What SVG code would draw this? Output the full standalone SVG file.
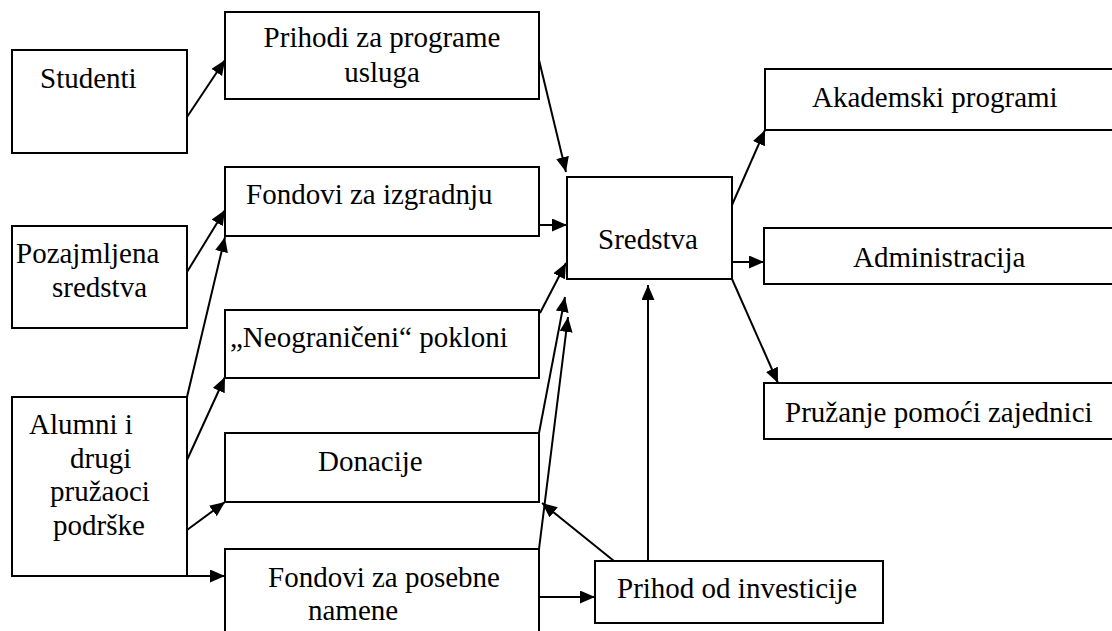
<svg xmlns="http://www.w3.org/2000/svg" width="1112" height="631" viewBox="0 0 1112 631">
<style>
.box{fill:#fff;stroke:#000;stroke-width:2}
.t{font-family:"Liberation Serif","Times New Roman",serif;font-size:29px;fill:#000}
.c{text-anchor:middle}
.ln{stroke:#000;stroke-width:2;fill:none;marker-end:url(#ah)}
</style>
<defs>
<marker id="ah" markerUnits="userSpaceOnUse" markerWidth="16" markerHeight="14" refX="15" refY="6.5" orient="auto">
<path d="M0,0 L15,6.5 L0,13 z" fill="#000"/>
</marker>
</defs>
<rect width="1112" height="631" fill="#fff"/>
<g id="studenti"><rect class="box" x="12" y="50" width="175" height="103"/><text class="t" x="40" y="88">Studenti</text></g>
<g id="prihodi-programe"><rect class="box" x="225" y="12" width="314" height="87"/><text class="t c" x="382" y="47">Prihodi za programe</text><text class="t c" x="382" y="82">usluga</text></g>
<g id="fondovi-izgradnju"><rect class="box" x="225" y="167" width="314" height="69"/><text class="t" x="246" y="204">Fondovi za izgradnju</text></g>
<g id="pozajmljena"><rect class="box" x="12" y="226" width="175" height="102"/><text class="t" x="16" y="263">Pozajmljena</text><text class="t" x="52" y="297">sredstva</text></g>
<g id="neograniceni"><rect class="box" x="225" y="310" width="314" height="68"/><text class="t" x="230" y="347">„Neograničeni“ pokloni</text></g>
<g id="alumni"><rect class="box" x="12" y="397" width="175" height="179"/><text class="t" x="29" y="434">Alumni i</text><text class="t" x="70" y="468">drugi</text><text class="t" x="50" y="501">pružaoci</text><text class="t" x="53" y="535">podrške</text></g>
<g id="donacije"><rect class="box" x="225" y="433" width="314" height="69"/><text class="t" x="318" y="471">Donacije</text></g>
<g id="fondovi-posebne"><rect class="box" x="225" y="549" width="314" height="95"/><text class="t" x="268" y="587">Fondovi za posebne</text><text class="t" x="308" y="620">namene</text></g>
<g id="sredstva"><rect class="box" x="567" y="177" width="165" height="102"/><text class="t" x="598" y="249">Sredstva</text></g>
<g id="prihod-investicije"><rect class="box" x="595" y="561" width="288" height="62"/><text class="t" x="617" y="598">Prihod od investicije</text></g>
<g id="akademski"><rect class="box" x="765" y="69" width="360" height="61"/><text class="t" x="812" y="107">Akademski programi</text></g>
<g id="administracija"><rect class="box" x="764" y="228" width="360" height="56"/><text class="t" x="853" y="267">Administracija</text></g>
<g id="pruzanje"><rect class="box" x="764" y="383" width="360" height="56"/><text class="t" x="785" y="422">Pružanje pomoći zajednici</text></g>
<g id="connectors">
<line class="ln" x1="187" y1="117" x2="225" y2="60"/>
<line class="ln" x1="539" y1="60" x2="566" y2="172"/>
<line class="ln" x1="539" y1="225" x2="567" y2="225"/>
<line class="ln" x1="540" y1="313" x2="566" y2="263"/>
<line class="ln" x1="539" y1="433" x2="565" y2="297"/>
<line class="ln" x1="539" y1="549" x2="568" y2="317"/>
<line class="ln" x1="648" y1="561" x2="648" y2="285"/>
<line class="ln" x1="614" y1="561" x2="542" y2="503"/>
<line class="ln" x1="539" y1="597" x2="595" y2="597"/>
<line class="ln" x1="187" y1="576" x2="225" y2="576"/>
<line class="ln" x1="187" y1="530" x2="225" y2="502"/>
<line class="ln" x1="187" y1="460" x2="225" y2="377"/>
<line class="ln" x1="187" y1="397" x2="225" y2="237"/>
<line class="ln" x1="187" y1="272" x2="225" y2="210"/>
<line class="ln" x1="732" y1="205" x2="765" y2="130"/>
<line class="ln" x1="732" y1="262" x2="764" y2="262"/>
<line class="ln" x1="732" y1="279" x2="778" y2="383"/>
</g>
</svg>
